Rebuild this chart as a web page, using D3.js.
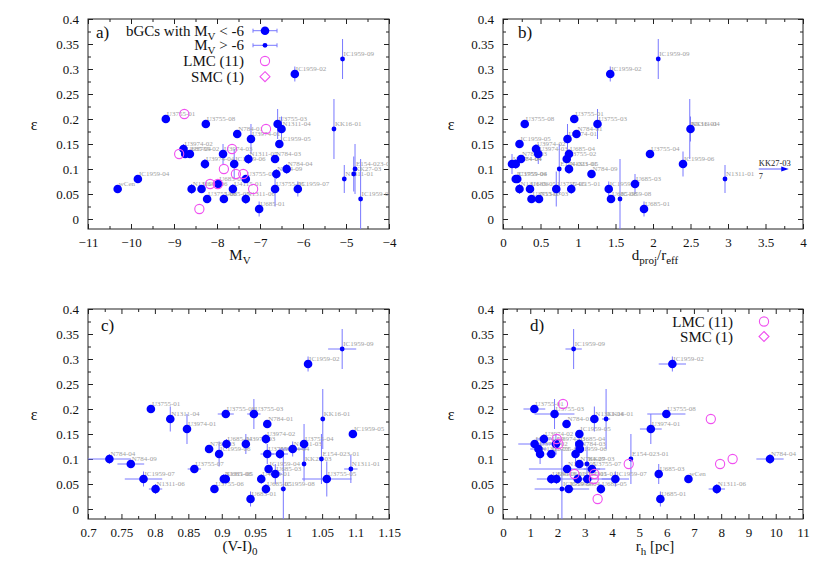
<!DOCTYPE html>
<html>
<head>
<meta charset="utf-8">
<script src="https://d3js.org/d3.v7.min.js"></script>
<style>
body { margin: 0; background: #fff; }
text { font-family: "Liberation Serif", "DejaVu Serif", serif; }
</style>
</head>
<body>
<div id="chart"></div>
<script>

// rows: [name, x, eps, epsErr, xErr, bright (Mv < -6)]
var panelA = [
	["wCen", -10.31, 0.06, 0, 0, 1],
	["IC1959-04", -9.84, 0.08, 0.005, 0, 1],
	["U3755-01", -9.19, 0.20, 0.005, 0, 1],
	["U3974-02", -8.78, 0.14, 0.01, 0, 1],
	["U685-04", -8.74, 0.13, 0.005, 0, 1],
	["U3755-02", -8.63, 0.13, 0.005, 0, 1],
	["U3755-08", -8.26, 0.19, 0.005, 0, 1],
	["U3974-04", -8.28, 0.11, 0.01, 0, 1],
	["N1311-03", -8.59, 0.06, 0.01, 0, 1],
	["U685-06", -8.36, 0.06, 0.008, 0, 1],
	["U3755-06", -8.23, 0.04, 0.006, 0, 1],
	["U685-03", -7.97, 0.07, 0.005, 0, 1],
	["U3974-03", -7.86, 0.13, 0.02, 0, 1],
	["U685-05", -7.84, 0.04, 0.008, 0, 1],
	["U4115-01", -7.63, 0.06, 0.01, 0, 1],
	["IC1959-06", -7.60, 0.11, 0.03, 0, 1],
	["N784-01", -7.53, 0.17, 0.005, 0, 1],
	["U3755-07", -7.33, 0.08, 0.005, 0, 1],
	["N1311-06", -7.33, 0.04, 0.01, 0, 1],
	["N1311-05", -7.27, 0.12, 0.01, 0, 1],
	["U3974-01", -7.21, 0.16, 0.03, 0, 1],
	["U685-01", -7.02, 0.02, 0.015, 0, 1],
	["N784-03", -6.65, 0.12, 0.005, 0, 1],
	["U3755-05", -6.65, 0.06, 0.035, 0, 1],
	["N784-09", -6.62, 0.09, 0.01, 0, 1],
	["U3755-03", -6.59, 0.19, 0.03, 0, 1],
	["N1311-04", -6.50, 0.18, 0.025, 0, 1],
	["IC1959-05", -6.55, 0.15, 0.005, 0, 1],
	["N784-04", -6.38, 0.10, 0.01, 0, 1],
	["IC1959-02", -6.19, 0.29, 0.015, 0, 1],
	["IC1959-07", -6.12, 0.06, 0.015, 0, 1],
	["KK16-01", -5.28, 0.18, 0.06, 0, 0],
	["IC1959-09", -5.08, 0.32, 0.04, 0, 0],
	["N1311-01", -5.04, 0.08, 0.028, 0, 0],
	["KK27-03", -4.82, 0.09, 0.035, 0, 0],
	["E154-023-01", -4.79, 0.10, 0.05, 0, 0],
	["IC1959-08", -4.66, 0.04, 0.08, 0, 0]
];

var panelB = [
	["U3974-04", 0.12, 0.11, 0.02, 0, 1],
	["N784-04", 0.17, 0.11, 0.01, 0, 1],
	["IC1959-04", 0.17, 0.08, 0.005, 0, 1],
	["U3755-06", 0.19, 0.08, 0.005, 0, 1],
	["IC1959-05", 0.22, 0.15, 0.005, 0, 1],
	["N1311-06", 0.22, 0.06, 0.01, 0, 1],
	["N784-03", 0.24, 0.12, 0.005, 0, 1],
	["U3755-08", 0.29, 0.19, 0.005, 0, 1],
	["U685-05", 0.36, 0.06, 0.008, 0, 1],
	["U3755-07", 0.38, 0.04, 0.008, 0, 1],
	["U3974-02", 0.44, 0.14, 0.01, 0, 1],
	["U3974-03", 0.47, 0.13, 0.02, 0, 1],
	["N1311-03", 0.48, 0.04, 0.005, 0, 1],
	["U3755-05", 0.71, 0.06, 0.035, 0, 1],
	["E154-023-01", 0.75, 0.10, 0.05, 0, 0],
	["U3755-02", 0.85, 0.12, 0.005, 0, 1],
	["U3974-01", 0.86, 0.16, 0.03, 0, 1],
	["U685-04", 0.88, 0.13, 0.01, 0, 1],
	["N1311-05", 0.88, 0.10, 0.01, 0, 1],
	["U4115-01", 0.91, 0.06, 0.01, 0, 1],
	["U3755-01", 0.95, 0.20, 0.005, 0, 1],
	["N784-01", 0.98, 0.17, 0.005, 0, 1],
	["N784-09", 1.18, 0.09, 0.005, 0, 1],
	["U3755-03", 1.26, 0.19, 0.03, 0, 1],
	["IC1959-02", 1.43, 0.29, 0.015, 0, 1],
	["IC1959-07", 1.41, 0.06, 0.015, 0, 1],
	["U685-06", 1.44, 0.04, 0.008, 0, 1],
	["IC1959-08", 1.56, 0.04, 0.08, 0, 0],
	["U685-03", 1.76, 0.07, 0.02, 0, 1],
	["U685-01", 1.88, 0.02, 0.015, 0, 1],
	["U3755-04", 1.96, 0.13, 0.005, 0, 1],
	["IC1959-09", 2.07, 0.32, 0.04, 0, 0],
	["IC1959-06", 2.40, 0.11, 0.025, 0, 1],
	["N1311-04", 2.50, 0.18, 0.025, 0, 1],
	["KK16-01", 2.49, 0.18, 0.06, 0, 0],
	["N1311-01", 2.96, 0.08, 0.028, 0, 0]
];

var panelC = [
	["N784-04", 0.732, 0.10, 0.01, 0.032, 1],
	["N784-09", 0.764, 0.09, 0.005, 0.02, 1],
	["IC1959-07", 0.783, 0.06, 0.015, 0.028, 1],
	["N1311-06", 0.801, 0.04, 0.01, 0.01, 1],
	["U3755-01", 0.794, 0.20, 0.005, 0.002, 1],
	["N1311-04", 0.823, 0.18, 0.025, 0.006, 1],
	["U3974-01", 0.848, 0.16, 0.03, 0.004, 1],
	["U3755-07", 0.859, 0.08, 0.005, 0.01, 1],
	["N784-03", 0.881, 0.12, 0.005, 0.006, 1],
	["U3755-06", 0.889, 0.04, 0.005, 0.005, 1],
	["IC1959-06", 0.896, 0.11, 0.025, 0.005, 1],
	["N1311-05", 0.903, 0.06, 0.01, 0.005, 1],
	["U685-06", 0.906, 0.06, 0.01, 0.005, 1],
	["U3755-08", 0.906, 0.19, 0.005, 0.012, 1],
	["U685-04", 0.907, 0.13, 0.01, 0.004, 1],
	["U3974-03", 0.936, 0.13, 0.02, 0.004, 1],
	["U3755-03", 0.948, 0.19, 0.03, 0.01, 1],
	["U685-01", 0.943, 0.02, 0.015, 0.004, 1],
	["U4115-01", 0.959, 0.06, 0.01, 0.004, 1],
	["U3974-02", 0.966, 0.14, 0.01, 0.004, 1],
	["N784-01", 0.968, 0.17, 0.005, 0.003, 1],
	["U3755-02", 0.968, 0.11, 0.02, 0.01, 1],
	["U685-05", 0.966, 0.04, 0.01, 0.005, 1],
	["IC1959-04", 0.970, 0.08, 0.005, 0.005, 1],
	["U685-03", 0.980, 0.07, 0.02, 0.01, 1],
	["U3974-04", 0.987, 0.11, 0.01, 0.012, 1],
	["IC1959-08", 0.992, 0.04, 0.08, 0.004, 0],
	["N1311-03", 1.006, 0.12, 0.015, 0.02, 1],
	["U3755-04", 1.023, 0.13, 0.04, 0.006, 1],
	["KK27-03", 1.023, 0.09, 0.035, 0.003, 0],
	["IC1959-02", 1.029, 0.29, 0.015, 0.006, 1],
	["KK16-01", 1.051, 0.18, 0.06, 0.003, 0],
	["E154-023-01", 1.049, 0.10, 0.05, 0.002, 0],
	["U3755-05", 1.057, 0.06, 0.035, 0.037, 1],
	["IC1959-09", 1.080, 0.32, 0.04, 0.021, 0],
	["N1311-01", 1.093, 0.08, 0.028, 0.01, 0],
	["IC1959-05", 1.096, 0.15, 0.005, 0.002, 1]
];

var panelD = [
	["U3755-01", 1.15, 0.20, 0.005, 0.4, 1],
	["U3755-03", 1.89, 0.19, 0.03, 0.73, 1],
	["N784-01", 2.33, 0.17, 0.005, 0.15, 1],
	["IC1959-09", 2.59, 0.32, 0.04, 0.3, 0],
	["N1311-04", 3.35, 0.18, 0.025, 0.1, 1],
	["KK16-01", 3.78, 0.18, 0.06, 0.15, 0],
	["IC1959-05", 2.80, 0.15, 0.005, 0.1, 1],
	["U3974-02", 1.50, 0.14, 0.01, 0.3, 1],
	["U3974-04", 1.16, 0.13, 0.005, 0.6, 1],
	["U3974-03", 1.94, 0.13, 0.02, 0.2, 1],
	["U685-04", 2.80, 0.13, 0.01, 0.1, 1],
	["N784-03", 2.82, 0.12, 0.005, 0.1, 1],
	["U3755-02", 1.30, 0.12, 0.005, 0.3, 1],
	["N1311-03", 1.36, 0.11, 0.02, 0.1, 1],
	["U3755-06", 1.77, 0.11, 0.005, 0.2, 1],
	["IC1959-06", 2.66, 0.11, 0.025, 0.1, 1],
	["N784-09", 2.80, 0.09, 0.005, 0.1, 1],
	["KK27-03", 3.08, 0.09, 0.035, 0.1, 0],
	["N1311-05", 2.35, 0.08, 0.005, 1.4, 1],
	["U3755-07", 3.26, 0.08, 0.005, 0.3, 1],
	["U685-06", 1.77, 0.06, 0.01, 0.1, 1],
	["U4115-01", 1.96, 0.06, 0.01, 0.1, 1],
	["U3755-05", 2.74, 0.06, 0.01, 1.5, 1],
	["N1311-01", 3.09, 0.06, 0.01, 0.2, 1],
	["IC1959-07", 4.12, 0.06, 0.015, 0.5, 1],
	["IC1959-08", 2.16, 0.04, 0.08, 1.0, 0],
	["IC1959-04", 2.41, 0.04, 0.008, 0.2, 1],
	["U685-05", 3.59, 0.04, 0.01, 0.1, 1],
	["E154-023-01", 4.69, 0.10, 0.05, 0.05, 0],
	["U3974-01", 5.42, 0.16, 0.03, 0.4, 1],
	["U685-03", 5.71, 0.07, 0.02, 0.1, 1],
	["U685-01", 5.77, 0.02, 0.015, 0.1, 1],
	["U3755-08", 5.99, 0.19, 0.005, 0.7, 1],
	["IC1959-02", 6.21, 0.29, 0.015, 0.5, 1],
	["wCen", 6.80, 0.06, 0, 0, 1],
	["N1311-06", 7.84, 0.04, 0.01, 0.3, 1],
	["N784-04", 9.79, 0.10, 0.01, 0.5, 1]
];

// LMC clusters
var lmcMv = [-8.88, -8.76, -8.41, -8.16, -7.98, -7.84, -7.65, -7.56, -7.39, -7.16, -6.86];
var lmcEpsA = [0.13, 0.21, 0.02, 0.07, 0.07, 0.10, 0.14, 0.09, 0.09, 0.06, 0.18];
var lmcRh = [2.20, 1.97, 2.03, 2.62, 3.35, 3.33, 3.47, 4.61, 7.62, 7.96, 8.42];
var lmcEpsD = [0.21, 0.14, 0.13, 0.07, 0.07, 0.06, 0.02, 0.09, 0.18, 0.09, 0.10];

// off-scale object in panel b
var offscaleB = [["KK27-03", 7, 0.10]];

var yTicks = [0, 0.05, 0.1, 0.15, 0.2, 0.25, 0.3, 0.35, 0.4];
var xTicksA = [-11, -10, -9, -8, -7, -6, -5, -4];
var xTicksB = [0, 0.5, 1, 1.5, 2, 2.5, 3, 3.5, 4];
var xTicksC = [0.7, 0.75, 0.8, 0.85, 0.9, 0.95, 1, 1.05, 1.1, 1.15];
var xTicksD = [0, 1, 2, 3, 4, 5, 6, 7, 8, 9, 10, 11];

var width = 830, height = 581;
var blue = "#0000ff", barBlue = "#7878ff", pink = "#f050f0";

var svg = d3.select("#chart").append("svg")
	.attr("width", width)
	.attr("height", height);

var yTop = d3.scaleLinear().domain([-0.02, 0.4]).range([229, 19]);
var yBot = d3.scaleLinear().domain([-0.02, 0.4]).range([519, 309]);

var xA = d3.scaleLinear().domain([-11, -4]).range([88, 389]);
var xB = d3.scaleLinear().domain([0, 4]).range([503, 803]);
var xC = d3.scaleLinear().domain([0.7, 1.15]).range([88, 389]);
var xD = d3.scaleLinear().domain([0, 11]).range([503, 803]);

function halves(t) {
	var out = [];
	for (var i = 0; i < t.length - 1; i++) out.push((t[i] + t[i + 1]) / 2);
	return out;
}

function frame(id, x, y, xt, fmt) {
	var g = svg.append("g");
	var x0 = x.range()[0], x1 = x.range()[1];
	var y0 = y.range()[1], y1 = y.range()[0];

	svg.append("clipPath").attr("id", id)
		.append("rect").attr("x", x0).attr("y", y0).attr("width", x1 - x0).attr("height", y1 - y0);

	// major + minor ticks on all four sides, pointing in
	g.append("g").attr("transform", "translate(0," + y1 + ")")
		.call(d3.axisBottom(x).tickValues(xt).tickSize(-5).tickPadding(9).tickFormat(fmt));
	g.append("g").attr("transform", "translate(0," + y1 + ")")
		.call(d3.axisBottom(x).tickValues(halves(xt)).tickSize(-3).tickFormat(""));
	g.append("g").attr("transform", "translate(0," + y0 + ")")
		.call(d3.axisTop(x).tickValues(xt).tickSize(-5).tickFormat(""));
	g.append("g").attr("transform", "translate(0," + y0 + ")")
		.call(d3.axisTop(x).tickValues(halves(xt)).tickSize(-3).tickFormat(""));
	g.append("g").attr("transform", "translate(" + x0 + ",0)")
		.call(d3.axisLeft(y).tickValues(yTicks).tickSize(-5).tickPadding(9).tickFormat(d3.format("")));
	g.append("g").attr("transform", "translate(" + x0 + ",0)")
		.call(d3.axisLeft(y).tickValues(halves(yTicks)).tickSize(-3).tickFormat(""));
	g.append("g").attr("transform", "translate(" + x1 + ",0)")
		.call(d3.axisRight(y).tickValues(yTicks).tickSize(-5).tickFormat(""));
	g.append("g").attr("transform", "translate(" + x1 + ",0)")
		.call(d3.axisRight(y).tickValues(halves(yTicks)).tickSize(-3).tickFormat(""));

	g.selectAll(".domain").remove();
	g.selectAll(".tick line").attr("stroke", "#222");
	g.selectAll(".tick text")
		.style("font-family", "Liberation Serif")
		.style("font-size", "13px")
		.attr("fill", "#111");

	g.append("rect")
		.attr("x", x0).attr("y", y0)
		.attr("width", x1 - x0).attr("height", y1 - y0)
		.attr("fill", "none").attr("stroke", "#222");
}

function points(id, data, x, y) {
	var g = svg.append("g").attr("clip-path", "url(#" + id + ")");

	// error bars
	g.selectAll(".ey").data(data.filter(function(d) { return d[3] > 0; }))
		.enter().append("line")
		.attr("x1", function(d) { return x(d[1]); })
		.attr("x2", function(d) { return x(d[1]); })
		.attr("y1", function(d) { return y(d[2] - d[3]); })
		.attr("y2", function(d) { return y(d[2] + d[3]); })
		.attr("stroke", barBlue).attr("stroke-width", 1);
	g.selectAll(".ex").data(data.filter(function(d) { return d[4] > 0; }))
		.enter().append("line")
		.attr("x1", function(d) { return x(d[1] - d[4]); })
		.attr("x2", function(d) { return x(d[1] + d[4]); })
		.attr("y1", function(d) { return y(d[2]); })
		.attr("y2", function(d) { return y(d[2]); })
		.attr("stroke", barBlue).attr("stroke-width", 1);

	// labels
	g.selectAll(".lab").data(data)
		.enter().append("text")
		.attr("x", function(d) { return x(d[1]) + 1; })
		.attr("y", function(d) { return y(d[2]) - 3; })
		.text(function(d) { return d[0]; })
		.style("font-size", "7px")
		.attr("fill", "#a0a0a0");

	g.selectAll(".pt").data(data)
		.enter().append("circle")
		.attr("cx", function(d) { return x(d[1]); })
		.attr("cy", function(d) { return y(d[2]); })
		.attr("r", function(d) { return d[5] ? 4.3 : 2.4; })
		.attr("fill", blue);
}

function rings(id, xs, ys, x, y) {
	svg.append("g").attr("clip-path", "url(#" + id + ")")
		.selectAll("circle").data(xs)
		.enter().append("circle")
		.attr("cx", function(d) { return x(d); })
		.attr("cy", function(d, i) { return y(ys[i]); })
		.attr("r", 4.6)
		.attr("fill", "none")
		.attr("stroke", pink)
		.attr("stroke-width", 1.1);
}

frame("clipA", xA, yTop, xTicksA, d3.format(""));
frame("clipB", xB, yTop, xTicksB, d3.format(""));
frame("clipC", xC, yBot, xTicksC, d3.format(""));
frame("clipD", xD, yBot, xTicksD, d3.format(""));

points("clipA", panelA, xA, yTop);
rings("clipA", lmcMv, lmcEpsA, xA, yTop);
points("clipB", panelB, xB, yTop);
points("clipC", panelC, xC, yBot);
points("clipD", panelD, xD, yBot);
rings("clipD", lmcRh, lmcEpsD, xD, yBot);

// off-scale arrow in b)
var arrow = svg.append("g");
offscaleB.forEach(function(d) {
	var ya = yTop(d[2]);
	arrow.append("line")
		.attr("x1", xB(3.41)).attr("x2", xB(3.76))
		.attr("y1", ya).attr("y2", ya)
		.attr("stroke", barBlue).attr("stroke-width", 1.2);
	arrow.append("path")
		.attr("d", "M" + xB(3.71) + "," + (ya - 2.5) + "L" + xB(3.81) + "," + ya + "L" + xB(3.71) + "," + (ya + 2.5) + "Z")
		.attr("fill", blue);
	arrow.append("text")
		.attr("x", xB(3.41)).attr("y", ya - 3)
		.text(d[0])
		.style("font-size", "8.5px").attr("fill", "#222");
	arrow.append("text")
		.attr("x", xB(3.41)).attr("y", ya + 10)
		.text(d[1])
		.style("font-size", "8.5px").attr("fill", "#222");
});

// panel letters
var letters = [["a)", 96, 38], ["b)", 518, 38], ["c)", 101, 331], ["d)", 530, 331]];
letters.forEach(function(l) {
	svg.append("text").attr("x", l[1]).attr("y", l[2]).text(l[0])
		.style("font-size", "17px").attr("fill", "#111");
});

// y titles
[[34, 130], [451, 130], [34, 420], [451, 420]].forEach(function(p) {
	svg.append("text").attr("x", p[0]).attr("y", p[1]).text("ε")
		.attr("text-anchor", "middle")
		.style("font-size", "16px").attr("fill", "#111");
});

// x titles with subscripts
function subTitle(x, y, parts) {
	var t = svg.append("text").attr("x", x).attr("y", y)
		.attr("text-anchor", "middle")
		.style("font-size", "15px").attr("fill", "#111");
	var shift = 0;
	parts.forEach(function(p) {
		var dy = (p[1] ? 4 : 0) - shift;
		shift = p[1] ? 4 : 0;
		t.append("tspan").attr("dy", dy)
			.style("font-size", p[1] ? "11px" : "15px")
			.text(p[0]);
	});
}
subTitle(240, 260, [["M", 0], ["V", 1]]);
subTitle(655, 260, [["d", 0], ["proj", 1], ["/r", 0], ["eff", 1]]);
subTitle(240, 551, [["(V-I)", 0], ["0", 1]]);
subTitle(655, 551, [["r", 0], ["h", 1], [" [pc]", 0]]);

// legend a)
var leg = svg.append("g");
function legText(xr, y, parts) {
	var t = leg.append("text").attr("x", xr).attr("y", y)
		.attr("text-anchor", "end")
		.style("font-size", "15px").attr("fill", "#111");
	var shift = 0;
	parts.forEach(function(p) {
		var dy = (p[1] ? 4 : 0) - shift;
		shift = p[1] ? 4 : 0;
		t.append("tspan").attr("dy", dy)
			.style("font-size", p[1] ? "11px" : "15px")
			.text(p[0]);
	});
}
legText(244, 36, [["bGCs with M", 0], ["V", 1], [" < -6", 0]]);
legText(244, 50, [["M", 0], ["V", 1], [" > -6", 0]]);
legText(244, 66, [["LMC (11)", 0]]);
legText(244, 82, [["SMC (1)", 0]]);

[[30.7, 4.3], [45.3, 2.4]].forEach(function(r) {
	leg.append("line").attr("x1", 253).attr("x2", 277).attr("y1", r[0]).attr("y2", r[0])
		.attr("stroke", barBlue);
	leg.append("line").attr("x1", 253).attr("x2", 253).attr("y1", r[0] - 2).attr("y2", r[0] + 2)
		.attr("stroke", barBlue);
	leg.append("line").attr("x1", 277).attr("x2", 277).attr("y1", r[0] - 2).attr("y2", r[0] + 2)
		.attr("stroke", barBlue);
	leg.append("circle").attr("cx", 265).attr("cy", r[0]).attr("r", r[1]).attr("fill", blue);
});

function ringAt(g, cx, cy) {
	g.append("circle").attr("cx", cx).attr("cy", cy).attr("r", 4.6)
		.attr("fill", "none").attr("stroke", pink).attr("stroke-width", 1.1);
}
function diamondAt(g, cx, cy) {
	g.append("path").attr("d", "M" + cx + "," + (cy - 5) + "L" + (cx + 5) + "," + cy + "L" + cx + "," + (cy + 5) + "L" + (cx - 5) + "," + cy + "Z")
		.attr("fill", "none").attr("stroke", pink).attr("stroke-width", 1.1);
}
ringAt(leg, 265, 61);
diamondAt(leg, 265, 76.7);

// legend d)
legText(733, 327, [["LMC (11)", 0]]);
legText(733, 342, [["SMC (1)", 0]]);
ringAt(leg, 764, 321.5);
diamondAt(leg, 764, 336.5);

</script>
</body>
</html>
